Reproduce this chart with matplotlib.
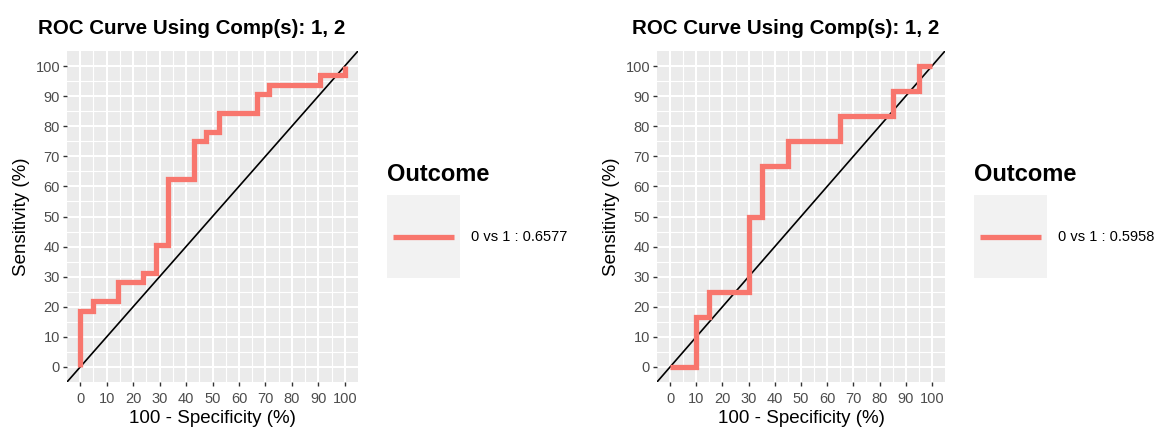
import matplotlib
matplotlib.use("Agg")
import matplotlib.pyplot as plt
from matplotlib.patches import Rectangle
from matplotlib.lines import Line2D

plt.rcParams['font.family'] = ['Liberation Sans', 'DejaVu Sans']

# ---- data ----
title_text = "ROC Curve Using Comp(s): 1, 2"
legend_title = "Outcome"
ticks = [0, 10, 20, 30, 40, 50, 60, 70, 80, 90, 100]

# left panel ROC (100 - specificity, sensitivity), step vertices
roc1_fpr = [0, 0, 4.76, 4.76, 14.29, 14.29, 23.81, 23.81, 28.57, 28.57, 33.33, 33.33,
            42.86, 42.86, 47.62, 47.62, 52.38, 52.38, 66.67, 66.67, 71.43, 71.43,
            90.48, 90.48, 100, 100]
roc1_tpr = [0, 18.75, 18.75, 21.875, 21.875, 28.125, 28.125, 31.25, 31.25, 40.625, 40.625, 62.5,
            62.5, 75, 75, 78.125, 78.125, 84.375, 84.375, 90.625, 90.625, 93.75,
            93.75, 96.875, 96.875, 100]
roc1_label = "0 vs 1 : 0.6577"

# right panel ROC
roc2_fpr = [0, 10, 10, 15, 15, 30, 30, 35, 35, 45, 45, 65, 65, 85, 85, 95, 95, 100]
roc2_tpr = [0, 0, 16.67, 16.67, 25, 25, 50, 50, 66.67, 66.67, 75, 75, 83.33, 83.33,
            91.67, 91.67, 100, 100]
roc2_label = "0 vs 1 : 0.5958"

RED = "#F8766D"
W, H = 1162, 434
fig = plt.figure(figsize=(W / 100, H / 100), dpi=100)


def px_rect(x0, y0, x1, y1):
    return [x0 / W, 1 - y1 / H, (x1 - x0) / W, (y1 - y0) / H]


def draw_panel(rect, fpr, tpr):
    ax = fig.add_axes(rect)
    ax.set_facecolor("#EBEBEB")
    ax.set_xlim(-5, 105)
    ax.set_ylim(-5, 105)
    ax.set_xticks(ticks)
    ax.set_yticks(ticks)
    ax.set_yticks([t + 5 for t in ticks[:-1]], minor=True)
    ax.set_xticks([t + 5 for t in ticks[:-1]], minor=True)
    ax.grid(which="major", color="white", linewidth=1.5)
    ax.grid(which="minor", color="white", linewidth=0.8)
    ax.set_axisbelow(True)
    for s in ax.spines.values():
        s.set_visible(False)
    ax.tick_params(which="major", length=3, width=1, color="#333333",
                   labelsize=10.5, labelcolor="#4D4D4D")
    ax.tick_params(axis="x", which="major", pad=4)
    ax.tick_params(axis="y", which="major", pad=2)
    ax.tick_params(which="minor", length=0)
    ax.plot([-10, 110], [-10, 110], color="black", linewidth=1.2, zorder=3)
    ax.plot(fpr, tpr, color=RED, linewidth=3.8, solid_joinstyle="miter",
            solid_capstyle="butt", zorder=4)
    ax.set_xlabel("100 - Specificity (%)", fontsize=13.5, color="black", labelpad=3)
    ax.set_ylabel("Sensitivity (%)", fontsize=13.5, color="black", labelpad=4)
    return ax


ax1 = draw_panel(px_rect(67, 51, 358, 382), roc1_fpr, roc1_tpr)
ax2 = draw_panel(px_rect(657, 51, 945, 382), roc2_fpr, roc2_tpr)

fig.text(38 / W, 1 - 34 / H, title_text, fontsize=14.8, fontweight="bold",
         ha="left", va="baseline")
fig.text(632 / W, 1 - 34 / H, title_text, fontsize=14.8, fontweight="bold",
         ha="left", va="baseline")


def draw_legend(x_key, label):
    fig.text(x_key / W, 1 - 181 / H, legend_title, fontsize=17, fontweight="bold",
             ha="left", va="baseline")
    fig.add_artist(Rectangle((x_key / W, 1 - 278 / H), 73 / W, 83 / H,
                             transform=fig.transFigure, facecolor="#F2F2F2",
                             edgecolor="none"))
    fig.add_artist(Line2D([(x_key + 6) / W, (x_key + 67) / W], [1 - 237 / H, 1 - 237 / H],
                          transform=fig.transFigure, color=RED, linewidth=3.8,
                          solid_capstyle="butt"))
    fig.text((x_key + 84) / W, 1 - 237 / H, label, fontsize=10.5, color="black",
             ha="left", va="center")


draw_legend(387, roc1_label)
draw_legend(974, roc2_label)

fig.savefig("out.png", dpi=100)
